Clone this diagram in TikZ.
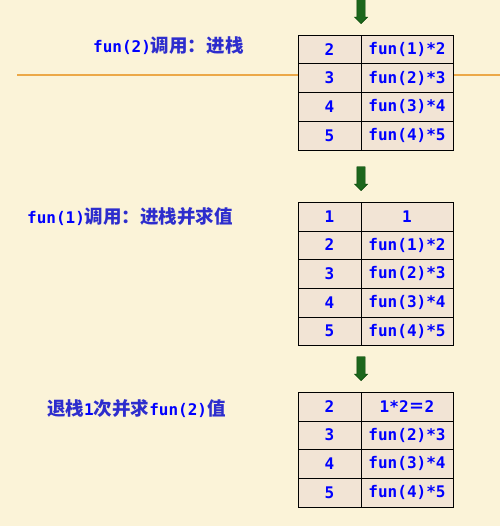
\documentclass[tikz,border=0pt]{standalone}
\usepackage{fontspec}
\setmonofont{DejaVu Sans Mono}
\newfontfamily\cjk{Noto Sans CJK SC}
\usetikzlibrary{shapes.arrows, positioning}
\definecolor{paper}{RGB}{251,243,216}
\definecolor{cellbg}{RGB}{242,228,213}
\definecolor{textblue}{RGB}{0,0,255}
\definecolor{cjkblue}{RGB}{45,45,205}
\definecolor{rulecol}{RGB}{236,168,72}
\definecolor{pushgreen}{RGB}{28,102,28}
\tikzset{%
  key/.style  = {rectangle, draw, fill=cellbg, minimum width=63pt, minimum height=28.7pt,
                 inner sep=0pt, outer sep=0pt, text=textblue,
                 font=\ttfamily\bfseries\fontsize{16}{16}\selectfont},
  val/.style  = {key, minimum width=92pt},
  push/.style = {single arrow, draw=black!75!green, fill=pushgreen, shape border rotate=270,
                 minimum height=24pt, single arrow head extend=2.5pt,
                 inner sep=4pt},
  note/.style = {anchor=west, inner sep=0pt, text=textblue,
                 font=\ttfamily\bfseries\fontsize{16}{19}\selectfont}
}
\newcommand{\zh}[1]{{\cjk\bfseries\fontsize{18.5}{19}\selectfont\color{cjkblue}#1}}

\begin{document}
\begin{tikzpicture}[x=1pt, y=-1pt]
    \fill[paper] (0,0) rectangle (500,526);
    \useasboundingbox (0,0) rectangle (500,526);
    \draw[rulecol, line width=2pt] (17,75) -- (500,75);

    % fun(2) call
    \node (a2)  [key] at (329.5,49.35) {2};
    \node (a3)  [key, below=0pt of a2] {3};
    \node (a4)  [key, below=0pt of a3] {4};
    \node (a5)  [key, below=0pt of a4] {5};
    \node (a2f) [val, right=0pt of a2] {fun(1)*2};
    \node (a3f) [val, right=0pt of a3] {fun(2)*3};
    \node (a4f) [val, right=0pt of a4] {fun(3)*4};
    \node (a5f) [val, right=0pt of a5] {fun(4)*5};
    \node (apush) [push, above=11pt of a2.north east, anchor=tip] {};
    \node (anote) [note] at (93,46) {fun(2)\zh{调用：进栈}};

    % fun(1) call
    \node (b1)  [key] at (329.5,216.35) {1};
    \node (b2)  [key, below=0pt of b1] {2};
    \node (b3)  [key, below=0pt of b2] {3};
    \node (b4)  [key, below=0pt of b3] {4};
    \node (b5)  [key, below=0pt of b4] {5};
    \node (b1f) [val, right=0pt of b1] {1};
    \node (b2f) [val, right=0pt of b2] {fun(1)*2};
    \node (b3f) [val, right=0pt of b3] {fun(2)*3};
    \node (b4f) [val, right=0pt of b4] {fun(3)*4};
    \node (b5f) [val, right=0pt of b5] {fun(4)*5};
    \node (bpush) [push, above=11pt of b1.north east, anchor=tip] {};
    \node (bnote) [note] at (27,217) {fun(1)\zh{调用：进栈并求值}};

    % pop once
    \node (c2)  [key] at (329.5,406.35) {2};
    \node (c3)  [key, below=0pt of c2] {3};
    \node (c4)  [key, below=0pt of c3] {4};
    \node (c5)  [key, below=0pt of c4] {5};
    \node (c2f) [val, right=0pt of c2] {1*2{\cjk＝}2};
    \node (c3f) [val, right=0pt of c3] {fun(2)*3};
    \node (c4f) [val, right=0pt of c4] {fun(3)*4};
    \node (c5f) [val, right=0pt of c5] {fun(4)*5};
    \node (cpush) [push, above=11pt of c2.north east, anchor=tip] {};
    \node (cnote) [note] at (47,409) {\zh{退栈}1\zh{次并求}fun(2)\zh{值}};
\end{tikzpicture}
\end{document}
